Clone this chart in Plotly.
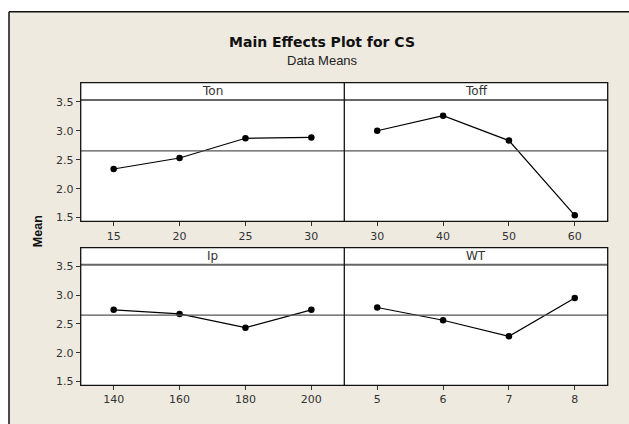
import numpy as np
import plotly.graph_objects as go

# Factor levels and the mean response (CS) at each level
ton_levels = [15, 20, 25, 30]
ton_means = [2.34, 2.53, 2.87, 2.885]

toff_levels = [30, 40, 50, 60]
toff_means = [3.0, 3.26, 2.83, 1.54]

ip_levels = [140, 160, 180, 200]
ip_means = [2.745, 2.675, 2.435, 2.745]

wt_levels = [5, 6, 7, 8]
wt_means = [2.785, 2.565, 2.285, 2.95]

factor_names = ["Ton", "Toff", "Ip", "WT"]
y_ticks = [1.5, 2.0, 2.5, 3.0, 3.5]

grand_mean = float(np.mean(ton_means + toff_means + ip_means + wt_means))

W, H = 629, 424
BEIGE = "#EEEAE0"


def fx(px):
    return px / W


def fy(py):
    return 1 - py / H


# panel geometry (pixels)
col_edges = [(80.7, 344.3), (344.3, 607.7)]
row_geom = [  # header top, plot top, plot bottom
    (80.0, 97.7, 221.0),
    (247.7, 265.0, 387.7),
]

panels = [
    (ton_levels, ton_means, 0, 0),
    (toff_levels, toff_means, 0, 1),
    (ip_levels, ip_means, 1, 0),
    (wt_levels, wt_means, 1, 1),
]

fig = go.Figure()
layout = dict(
    width=W,
    height=H,
    margin=dict(l=0, r=0, t=0, b=0),
    paper_bgcolor="white",
    plot_bgcolor="white",
    showlegend=False,
)

shapes = []
annotations = []

# beige chart frame
shapes.append(dict(type="rect", xref="paper", yref="paper",
                   x0=fx(9), x1=1.02, y0=-0.02, y1=fy(8),
                   fillcolor=BEIGE, line=dict(width=0), layer="below"))
shapes.append(dict(type="line", xref="paper", yref="paper",
                   x0=fx(9), x1=fx(9), y0=-0.02, y1=fy(8),
                   line=dict(color="#111111", width=1.5)))
shapes.append(dict(type="line", xref="paper", yref="paper",
                   x0=fx(9), x1=1.02, y0=fy(8), y1=fy(8),
                   line=dict(color="#111111", width=1.5)))

# white panel bodies (header strip + plotting area)
for htop, ptop, pbot in row_geom:
    L, R = col_edges[0][0], col_edges[1][1]
    shapes.append(dict(type="rect", xref="paper", yref="paper",
                       x0=fx(L), x1=fx(R), y0=fy(pbot), y1=fy(htop),
                       fillcolor="white", line=dict(width=0), layer="below"))

for i, (levels, means, r, c) in enumerate(panels):
    n = i + 1
    xa = "xaxis" if n == 1 else f"xaxis{n}"
    ya = "yaxis" if n == 1 else f"yaxis{n}"
    xr = "x" if n == 1 else f"x{n}"
    yr = "y" if n == 1 else f"y{n}"

    x0p, x1p = col_edges[c]
    htop, ptop, pbot = row_geom[r]
    step = levels[1] - levels[0]

    fig.add_trace(go.Scatter(
        x=levels, y=means, xaxis=xr, yaxis=yr,
        mode="lines+markers",
        line=dict(color="black", width=1.2),
        marker=dict(color="black", size=6.5),
        hoverinfo="x+y",
    ))

    layout[xa] = dict(
        domain=[fx(x0p), fx(x1p)],
        range=[levels[0] - step / 2, levels[-1] + step / 2],
        tickvals=levels,
        ticks="outside", ticklen=4, tickwidth=1, tickcolor="#333333",
        showgrid=False, zeroline=False, showline=False,
        tickfont=dict(family="DejaVu Sans", size=11, color="#333333"),
        anchor=yr, fixedrange=True,
    )
    left = c == 0
    layout[ya] = dict(
        domain=[fy(pbot), fy(ptop)],
        range=[1.435, 3.53],
        tickvals=y_ticks,
        ticktext=[f"{v:.1f}" for v in y_ticks],
        showticklabels=left,
        ticks="outside" if left else "",
        ticklen=4, tickwidth=1, tickcolor="#333333",
        showgrid=False, zeroline=False, showline=False,
        tickfont=dict(family="DejaVu Sans", size=11, color="#333333"),
        anchor=xr, fixedrange=True,
    )

    # grand mean reference line
    shapes.append(dict(type="line", xref=f"{xr} domain", yref=yr,
                       x0=0, x1=1, y0=grand_mean, y1=grand_mean,
                       line=dict(color="#555555", width=1.3)))

    # factor name in the panel header
    annotations.append(dict(
        text=factor_names[i], xref="paper", yref="paper",
        x=fx((x0p + x1p) / 2), y=fy((htop + ptop) / 2),
        xanchor="center", yanchor="middle", showarrow=False,
        font=dict(family="DejaVu Sans", size=12, color="#333333"),
    ))

# header separators and panel outlines
for htop, ptop, pbot in row_geom:
    L, R = col_edges[0][0], col_edges[1][1]
    shapes.append(dict(type="line", xref="paper", yref="paper",
                       x0=fx(L), x1=fx(R), y0=fy(ptop), y1=fy(ptop),
                       line=dict(color="#666666", width=2)))
    shapes.append(dict(type="rect", xref="paper", yref="paper",
                       x0=fx(L), x1=fx(R), y0=fy(pbot), y1=fy(htop),
                       line=dict(color="#111111", width=1.3)))
    mid = col_edges[0][1]
    shapes.append(dict(type="line", xref="paper", yref="paper",
                       x0=fx(mid), x1=fx(mid), y0=fy(pbot), y1=fy(htop),
                       line=dict(color="#111111", width=1.3)))

# titles
annotations.append(dict(
    text="<b>Main Effects Plot for CS</b>", xref="paper", yref="paper",
    x=fx(322), y=fy(39), xanchor="center", yanchor="middle", showarrow=False,
    font=dict(family="DejaVu Sans", size=14, color="#111111"),
))
annotations.append(dict(
    text="Data Means", xref="paper", yref="paper",
    x=fx(322), y=fy(57), xanchor="center", yanchor="middle", showarrow=False,
    font=dict(family="Liberation Sans", size=13, color="#222222"),
))
annotations.append(dict(
    text="<b>Mean</b>", xref="paper", yref="paper",
    x=fx(38), y=fy(231), xanchor="center", yanchor="middle", showarrow=False,
    textangle=-90,
    font=dict(family="Liberation Sans", size=12.5, color="#111111"),
))

layout["shapes"] = shapes
layout["annotations"] = annotations
fig.update_layout(**layout)

fig.write_html("out.html")
